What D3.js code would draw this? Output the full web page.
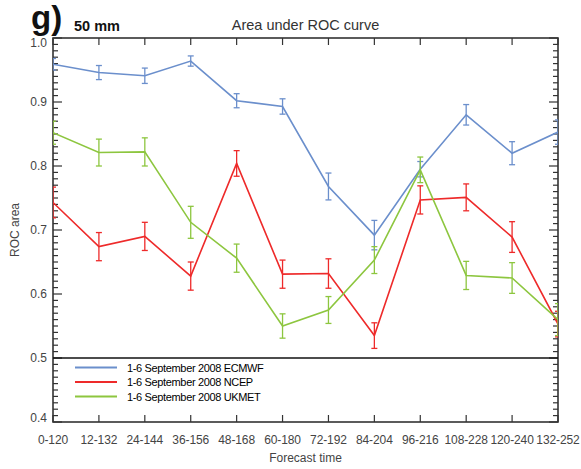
<!DOCTYPE html>
<html><head><meta charset="utf-8">
<script src="https://cdn.jsdelivr.net/npm/d3@7"></script>
<style>body{margin:0;background:#fff}svg{display:block;font-family:"Liberation Sans",Arial,sans-serif}</style>
</head><body><svg id="c" width="581" height="469"></svg>
<script>
const categories = ["0-120","12-132","24-144","36-156","48-168","60-180","72-192","84-204","96-216","108-228","120-240","132-252"];
const ecmwf    = [0.959,0.946,0.941,0.964,0.902,0.893,0.768,0.692,0.795,0.880,0.820,0.853];
const ecmwfErr = [0.009,0.011,0.012,0.008,0.011,0.012,0.021,0.023,0.012,0.016,0.018,0.019];
const ncep     = [0.743,0.674,0.690,0.628,0.804,0.631,0.632,0.535,0.747,0.751,0.689,0.553];
const ncepErr  = [0.024,0.022,0.022,0.022,0.020,0.022,0.023,0.020,0.022,0.021,0.024,0.020];
const ukmet    = [0.852,0.821,0.822,0.712,0.656,0.550,0.575,0.653,0.794,0.629,0.625,0.560];
const ukmetErr = [0.018,0.021,0.022,0.025,0.022,0.019,0.021,0.021,0.020,0.022,0.024,0.025];
const seriesNames = ["1-6 September 2008 ECMWF","1-6 September 2008 NCEP","1-6 September 2008 UKMET"];
const seriesColors = ["#6b8fcc","#ee2a2a","#8dc63f"];
const yTicks = [0.4,0.5,0.6,0.7,0.8,0.9,1.0];

const svg = d3.select("#c");
const L=53, R=558, T=38, B=422;
const x = d3.scalePoint().domain(categories).range([L,R]);
const y = d3.scaleLinear().domain([0.4,1.0]).range([B,T]);

svg.append("defs").append("clipPath").attr("id","clip")
  .append("rect").attr("x",L).attr("y",T).attr("width",R-L).attr("height",B-T);

const minor = d3.range(40,101).map(d=>d/100);
const frameColor="#333";
const g = svg.append("g");
minor.forEach(v=>{
  const major = Math.abs(v*10-Math.round(v*10))<1e-6;
  const len = major?9:5;
  g.append("line").attr("x1",L).attr("x2",L+len).attr("y1",y(v)).attr("y2",y(v)).attr("stroke",frameColor).attr("stroke-width",1.2);
  g.append("line").attr("x1",R).attr("x2",R-len).attr("y1",y(v)).attr("y2",y(v)).attr("stroke",frameColor).attr("stroke-width",1.2);
});
categories.forEach(c=>{
  g.append("line").attr("x1",x(c)).attr("x2",x(c)).attr("y1",B).attr("y2",B-7).attr("stroke",frameColor).attr("stroke-width",1.2);
  g.append("line").attr("x1",x(c)).attr("x2",x(c)).attr("y1",T).attr("y2",T+7).attr("stroke",frameColor).attr("stroke-width",1.2);
});
svg.append("rect").attr("x",L).attr("y",T).attr("width",R-L).attr("height",B-T)
  .attr("fill","none").attr("stroke",frameColor).attr("stroke-width",1.6);
svg.append("line").attr("x1",L).attr("x2",R).attr("y1",y(0.5)).attr("y2",y(0.5)).attr("stroke","#111").attr("stroke-width",1.5);

yTicks.forEach(v=>{
  let dy = 4.3;
  if (v===1.0) dy = 9;
  if (v===0.4) dy = 0;
  svg.append("text").attr("x",47).attr("y",y(v)+dy).attr("text-anchor","end")
    .attr("font-size",12).attr("fill","#444").text(d3.format(".1f")(v));
});
categories.forEach(c=>{
  svg.append("text").attr("x",x(c)).attr("y",444).attr("text-anchor","middle")
    .attr("font-size",12).attr("letter-spacing",-0.1).attr("fill","#444").text(c);
});
svg.append("text").attr("x",(L+R)/2).attr("y",462).attr("text-anchor","middle").attr("font-size",12).attr("fill","#444").text("Forecast time");
svg.append("text").attr("transform",`translate(18.5,${(T+B)/2}) rotate(-90)`).attr("text-anchor","middle").attr("font-size",12).attr("fill","#444").text("ROC area");
svg.append("text").attr("x",(L+R)/2).attr("y",30).attr("text-anchor","middle").attr("font-size",14.5).attr("fill","#333").text("Area under ROC curve");
svg.append("text").attr("x",31).attr("y",28.5).attr("font-size",33).attr("font-weight","bold").attr("fill","#111").text("g)");
svg.append("text").attr("x",74).attr("y",31).attr("font-size",14.5).attr("font-weight","bold").attr("fill","#111").text("50 mm");

const data = [[ecmwf,ecmwfErr],[ncep,ncepErr],[ukmet,ukmetErr]];
const plot = svg.append("g").attr("clip-path","url(#clip)");
const line = d3.line().x((d,i)=>x(categories[i])).y(d=>y(d));
data.forEach(([vals,errs],k)=>{
  const col = seriesColors[k];
  const gs = plot.append("g");
  gs.append("path").attr("d",line(vals)).attr("fill","none").attr("stroke",col).attr("stroke-width",1.6);
  vals.forEach((v,i)=>{
    const cx = x(categories[i]), e = errs[i];
    gs.append("line").attr("x1",cx).attr("x2",cx).attr("y1",y(v+e)).attr("y2",y(v-e)).attr("stroke",col).attr("stroke-width",1.3);
    [v+e,v-e].forEach(w=>gs.append("line").attr("x1",cx-3).attr("x2",cx+3).attr("y1",y(w)).attr("y2",y(w)).attr("stroke",col).attr("stroke-width",1.3));
  });
});

seriesNames.forEach((n,k)=>{
  const ly = 367.5 + k*14.5;
  svg.append("line").attr("x1",75).attr("x2",117).attr("y1",ly).attr("y2",ly).attr("stroke",seriesColors[k]).attr("stroke-width",2);
  svg.append("text").attr("x",127).attr("y",ly+4).attr("font-size",11).attr("letter-spacing",-0.35).attr("fill","#000").text(n);
});
</script></body></html>
